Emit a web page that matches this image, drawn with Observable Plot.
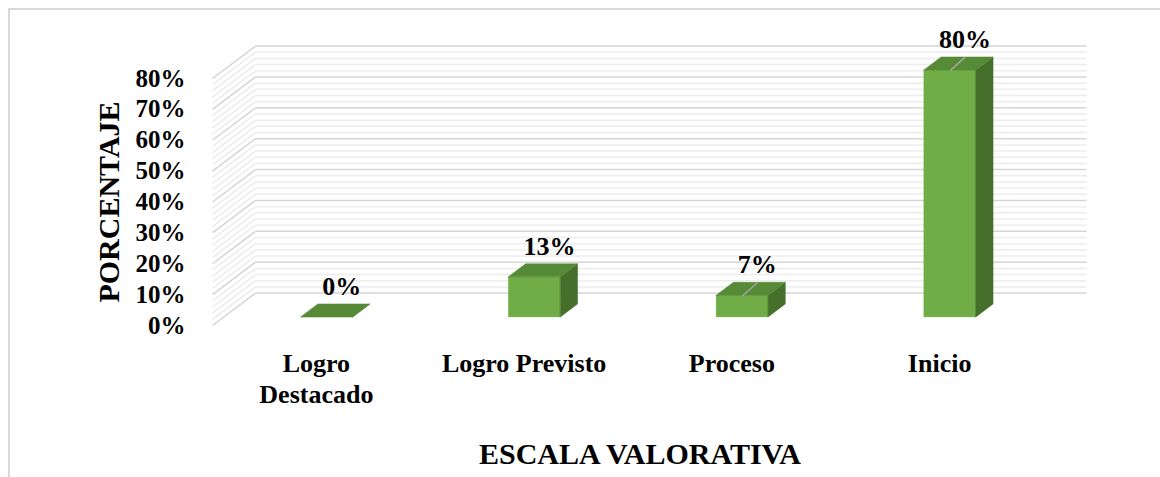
<!DOCTYPE html>
<html>
<head>
<meta charset="utf-8">
<script src="https://cdn.jsdelivr.net/npm/d3@7"></script>
<script src="https://cdn.jsdelivr.net/npm/@observablehq/plot@0.6"></script>
<style>
  html, body { margin: 0; padding: 0; background: #fff; width: 1160px; height: 477px; overflow: hidden; }
  #chart { position: absolute; left: 0; top: 0; }
  #frame { position: absolute; left: 8px; top: 8px; width: 1200px; height: 520px; border: 2px solid #d9d9d9; box-sizing: border-box; pointer-events: none; }
  #chart svg text { font-family: "Liberation Serif", "Times New Roman", serif; font-weight: bold; }
</style>
</head>
<body>
<div id="chart"></div>
<div id="frame"></div>
<script>
// ---- data ----
const categories = ["Logro Destacado", "Logro Previsto", "Proceso", "Inicio"];
const categoryLabels = ["Logro\nDestacado", "Logro Previsto", "Proceso", "Inicio"];
const percentages = [0, 13, 7, 80];
const valueLabels = ["0%", "13%", "7%", "80%"];
const hasLeader = [false, false, true, true];
const yTicks = [0, 10, 20, 30, 40, 50, 60, 70, 80];
const gridValues = d3.range(0, 81, 2);
const xTitle = "ESCALA VALORATIVA";
const yTitle = "PORCENTAJE";

// ---- oblique 3D geometry (in scale units) ----
const DX = 0.207;   // x shift (category slots) for full depth
const DY = 10.5;    // y shift (percent) for full depth
const D0 = 0.25, D1 = 0.65; // bar depth span
const HALF = 0.125; // half bar width in slots

const FONT = '"Liberation Serif", "Times New Roman", serif';
const colFront = "#70ad47", colTop = "#568a37", colSide = "#476f2c";

const bars = categories.map((c, i) => ({
  c, i, cx: i + 0.5, v: percentages[i], label: valueLabels[i], cat: categoryLabels[i], leader: hasLeader[i]
}));

const sidePts = bars.flatMap(b => [D0, D1].map(d => ({
  c: b.c, x: b.cx + HALF + d * DX, y1: d * DY, y2: b.v + d * DY
})));
const topPts = bars.flatMap(b => [D0, D1].map(d => ({
  c: b.c, y: b.v + d * DY, x1: b.cx - HALF + d * DX, x2: b.cx + HALF + d * DX
})));

const minor = gridValues.filter(v => v % 10 !== 0);
const major = gridValues.filter(v => v % 10 === 0);

const gridMarks = (vals, stroke) => [
  Plot.link(vals, {x1: () => DX, x2: () => categories.length + DX, y1: v => v + DY, y2: v => v + DY, stroke, strokeWidth: 1.5}),
  Plot.link(vals, {x1: () => 0, x2: () => DX, y1: v => v, y2: v => v + DY, stroke, strokeWidth: 1.5})
];

const chart = Plot.plot({
  width: 1160,
  height: 477,
  marginLeft: 212,
  marginRight: 117,
  marginTop: 78,
  marginBottom: 152,
  style: {fontFamily: FONT, fontWeight: "bold", color: "#000", background: "transparent"},
  x: {domain: [0, categories.length], axis: null},
  y: {domain: [0, 80]},
  marks: [
    ...gridMarks(minor, "#ececec"),
    ...gridMarks(major, "#d5d5d5"),
    Plot.axisY(yTicks, {tickSize: 0, tickPadding: 27, tickFormat: d => d + "%", fontSize: 25, fontFamily: FONT, fontWeight: "bold", fontVariant: "normal", label: null}),
    Plot.rect(bars, {
      x1: d => d.cx - HALF + D0 * DX, x2: d => d.cx + HALF + D0 * DX,
      y1: () => D0 * DY, y2: d => d.v + D0 * DY,
      fill: colFront, stroke: colFront, strokeWidth: 0.5
    }),
    Plot.areaY(sidePts, {x: "x", y1: "y1", y2: "y2", z: "c", fill: colSide, stroke: colSide, strokeWidth: 0.5}),
    Plot.areaX(topPts, {y: "y", x1: "x1", x2: "x2", z: "c", fill: colTop, stroke: colTop, strokeWidth: 0.5}),
    Plot.link(bars.filter(d => d.leader), {
      x1: d => d.cx + D0 * DX, y1: d => d.v + D0 * DY,
      x2: d => d.cx + D0 * DX + 0.07, y2: d => d.v + D1 * DY,
      stroke: "#a6a6a6", strokeWidth: 1.5
    }),
    Plot.text(bars, {x: d => d.cx + D0 * DX + 0.07, y: d => d.v + D1 * DY, text: "label", dy: -18, fontSize: 26, fontFamily: FONT, fontWeight: "bold"}),
    Plot.text(bars, {x: "cx", y: () => 0, text: "cat", lineAnchor: "top", dy: 25, fontSize: 26, lineHeight: 1.17, fontFamily: FONT, fontWeight: "bold"}),
    Plot.text([yTitle], {text: d => d, frameAnchor: "left", textAnchor: "middle", rotate: -90, dx: -103, fontSize: 30, fontFamily: FONT, fontWeight: "bold"}),
    Plot.text([xTitle], {text: d => d, frameAnchor: "bottom", textAnchor: "middle", dx: 12, dy: 138, fontSize: 30, fontFamily: FONT, fontWeight: "bold"})
  ]
});
document.getElementById("chart").appendChild(chart);
</script>
</body>
</html>
